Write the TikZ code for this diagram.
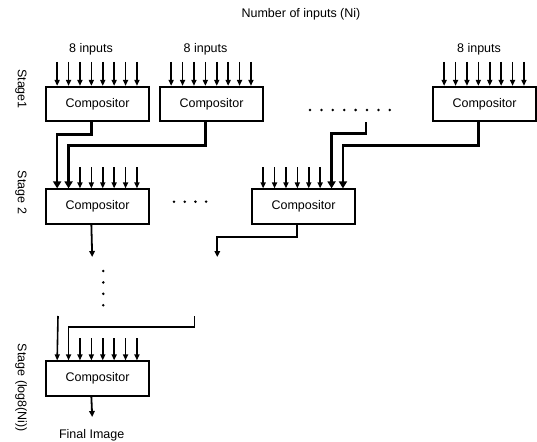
\documentclass[tikz,border=0pt]{standalone}
\usepackage{fontspec}
\setmainfont{Liberation Sans}
\usetikzlibrary{arrows.meta, calc}
\tikzset{
  every picture/.style={font=\fontsize{12.5}{14}\selectfont},
  comp/.style={draw, line width=1.7pt, minimum width=103pt, minimum height=34.5pt, inner sep=0pt},
  inarrow/.style={-{Triangle[length=6pt, width=5pt]}, line width=1.6pt},
  feed/.style={-{Triangle[length=7pt, width=8pt]}, line width=2.6pt},
  outarrow/.style={-{Triangle[length=6pt, width=5.5pt]}, line width=1.8pt},
  stage/.style={rotate=-90},
  dot/.style={circle, fill, inner sep=0pt, minimum size=2.8pt},
}

\begin{document}
\begin{tikzpicture}[x=1pt, y=-1pt]
  \useasboundingbox (0,0) rectangle (537,441);
  % compositor boxes
  \node[comp] (c11) at (97.5,104) {Compositor};
  \node[comp] (c12) at (211.5,104) {Compositor};
  \node[comp] (c13) at (484.5,104) {Compositor};
  \node[comp] (c21) at (97.5,206.5) {Compositor};
  \node[comp] (c22) at (303.5,206.5) {Compositor};
  \node[comp] (cf) at (97.5,378.5) {Compositor};
  % input and output points on every box
  \foreach \b in {c11,c12,c13,c21,c22,cf} {
    \foreach \k in {0,...,7}
      \coordinate (\b-\k) at ($(\b.north west)+(12+11.4*\k,0)$);
    \coordinate (\b-out) at ($(\b.south west)+(46.2,0)$);
  }
  % labels
  \node (title) at (301,14) {Number of inputs (Ni)};
  \node (in1) at (91,49) {8 inputs};
  \node (in2) at (205.5,49) {8 inputs};
  \node (in3) at (479,49) {8 inputs};
  \node[stage] (s1) at (21,89) {Stage1};
  \node[stage] (s2) at (21,192.5) {Stage 2};
  \node[stage] (sf) at (21,388) {Stage (log8(Ni))};
  \node (final) at (91.7,435) {Final Image};
  % stage 1 inputs
  \foreach \b in {c11,c12,c13}
    \foreach \k in {0,...,7}
      \draw[inarrow] ($(\b-\k)+(0,-24)$) -- (\b-\k);
  % stage 2 inputs
  \foreach \k in {2,...,7} \draw[inarrow] ($(c21-\k)+(0,-21)$) -- (c21-\k);
  \foreach \k in {0,...,5} \draw[inarrow] ($(c22-\k)+(0,-21)$) -- (c22-\k);
  \foreach \k in {2,...,7} \draw[inarrow] ($(cf-\k)+(0,-22)$) -- (cf-\k);
  % stage 1 -> stage 2
  \coordinate (more1) at (366,122);
  \draw[feed] (c11-out) -- ++(0,12.3) -| (c21-0);
  \draw[feed] (c12-out) -- ++(0,23.3) -| (c21-1);
  \draw[feed] (more1) -- ++(0,11.3) -| (c22-6);
  \draw[feed] (c13-out) -- ++(0,23.3) -| (c22-7);
  % stage 2 outputs
  \coordinate (down1) at (92.2,257);
  \coordinate (down2) at (217.3,257);
  \draw[outarrow] (c21-out) -- (down1);
  \draw[outarrow] (c22-out) -- ++(0,12) -| (down2);
  % last stage
  \coordinate (last1) at (58,316);
  \coordinate (last2) at (194.3,316);
  \draw[inarrow] (last1) -- (cf-0);
  \draw[inarrow] (last2) -- ++(0,10.7) -| (cf-1);
  \coordinate (result) at (92.2,417);
  \draw[outarrow] (cf-out) -- (result);
  % dots
  \foreach \i in {0,...,7} \node[dot] at (310+11.4*\i,110) {};
  \foreach \i in {0,...,3} \node[dot] at (174+10.7*\i,201.7) {};
  \foreach \i in {0,...,3} \node[dot] at (103.3,271+11.4*\i) {};
\end{tikzpicture}
\end{document}
